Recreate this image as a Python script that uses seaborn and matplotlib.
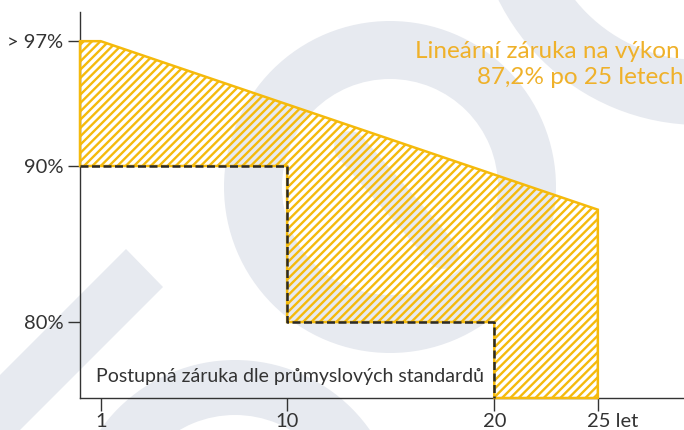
import matplotlib
matplotlib.use("Agg")
import matplotlib.pyplot as plt
import matplotlib.patches as mpatches
import matplotlib.transforms as mtransforms
import seaborn as sns

# data
years_linear = [0, 1, 25]
pct_linear = [98, 98, 87.2]          # tick "> 97%" sits at the 98 level
years_steps = [0, 10, 10, 20, 20]
pct_steps = [90, 90, 80, 80, 75.13]  # last point = bottom of the axis
y_ticks = [98, 90, 80]
y_labels = ["> 97%", "90%", "80%"]
x_ticks = [1, 10, 20, 25]
x_labels = ["1", "10", "20", "25 let"]

yellow = "#F5BA0C"
orange_txt = "#EFB12A"
dark = "#333333"
wm = "#E7EAF0"

sns.set_style("ticks")
plt.rcParams["font.family"] = ["Lato", "DejaVu Sans"]
plt.rcParams["hatch.linewidth"] = 1.7
plt.rcParams["hatch.color"] = yellow

fig = plt.figure(figsize=(6.84, 4.30), dpi=100)

# watermark in pixel coords
bg = fig.add_axes([0, 0, 1, 1], zorder=0)
bg.set_xlim(0, 684)
bg.set_ylim(430, 0)
bg.axis("off")
bg.add_patch(mpatches.Wedge((390, 187), 166, 0, 360, width=58, color=wm, lw=0))
bg.add_patch(mpatches.Wedge((700, -100), 225, 0, 360, width=65, color=wm, lw=0))
bg.add_patch(mpatches.Wedge((235, 525), 165, 0, 360, width=55, color=wm, lw=0))
bg.add_patch(mpatches.Polygon([(126, 249), (163, 287), (-237, 687), (-274, 649)],
                              closed=True, color=wm, lw=0))
bg.plot([350, 443], [147, 253], color=wm, lw=23, solid_capstyle="round")

ax = fig.add_axes([80 / 684, 32 / 430, 604 / 684, 386 / 430], zorder=1)
ax.set_facecolor("none")

# hatched area between linear warranty and step warranty
poly_x = years_linear + [years_linear[-1]] + years_steps[::-1]
poly_y = pct_linear + [pct_steps[-1]] + pct_steps[::-1]
ax.fill(poly_x, poly_y, facecolor="none", edgecolor=yellow, hatch="////",
        lw=1.8, clip_on=False, zorder=3)

sns.lineplot(x=years_steps, y=pct_steps, sort=False, estimator=None, ax=ax,
             color="#2a2a2a", lw=1.8, dashes=False, zorder=4)
ax.lines[-1].set_dashes((3.2, 1.4))
ax.lines[-1].set_clip_on(False)

ax.set_xlim(0, 29.16)
ax.set_ylim(75.13, 99.87)
sns.despine(ax=ax)
for s in ["left", "bottom"]:
    ax.spines[s].set_color(dark)
    ax.spines[s].set_linewidth(1.0)

ax.set_yticks(y_ticks)
ax.set_yticklabels(y_labels)
ax.set_xticks(x_ticks)
ax.set_xticklabels(x_labels)
ax.tick_params(axis="both", colors=dark, labelcolor=dark, labelsize=14.5,
               length=9, width=1.0)
ax.tick_params(axis="y", pad=3)
ax.tick_params(axis="x", pad=2)
last = ax.get_xticklabels()[-1]
last.set_ha("left")
last.set_transform(last.get_transform() +
                   mtransforms.ScaledTranslation(-0.105, 0, fig.dpi_scale_trans))

ax.text(0.76, 76.15, "Postupná záruka dle průmyslových standardů",
        fontsize=14, color=dark, va="baseline", ha="left")

fig.text(415 / 684, 1 - 57.7 / 430, "Lineární záruka na výkon",
         fontsize=17.5, color=orange_txt, va="baseline", ha="left")
fig.text(477 / 684, 1 - 84.3 / 430, "87,2% po 25 letech",
         fontsize=17.5, color=orange_txt, va="baseline", ha="left")

fig.savefig("out.png", dpi=100)
